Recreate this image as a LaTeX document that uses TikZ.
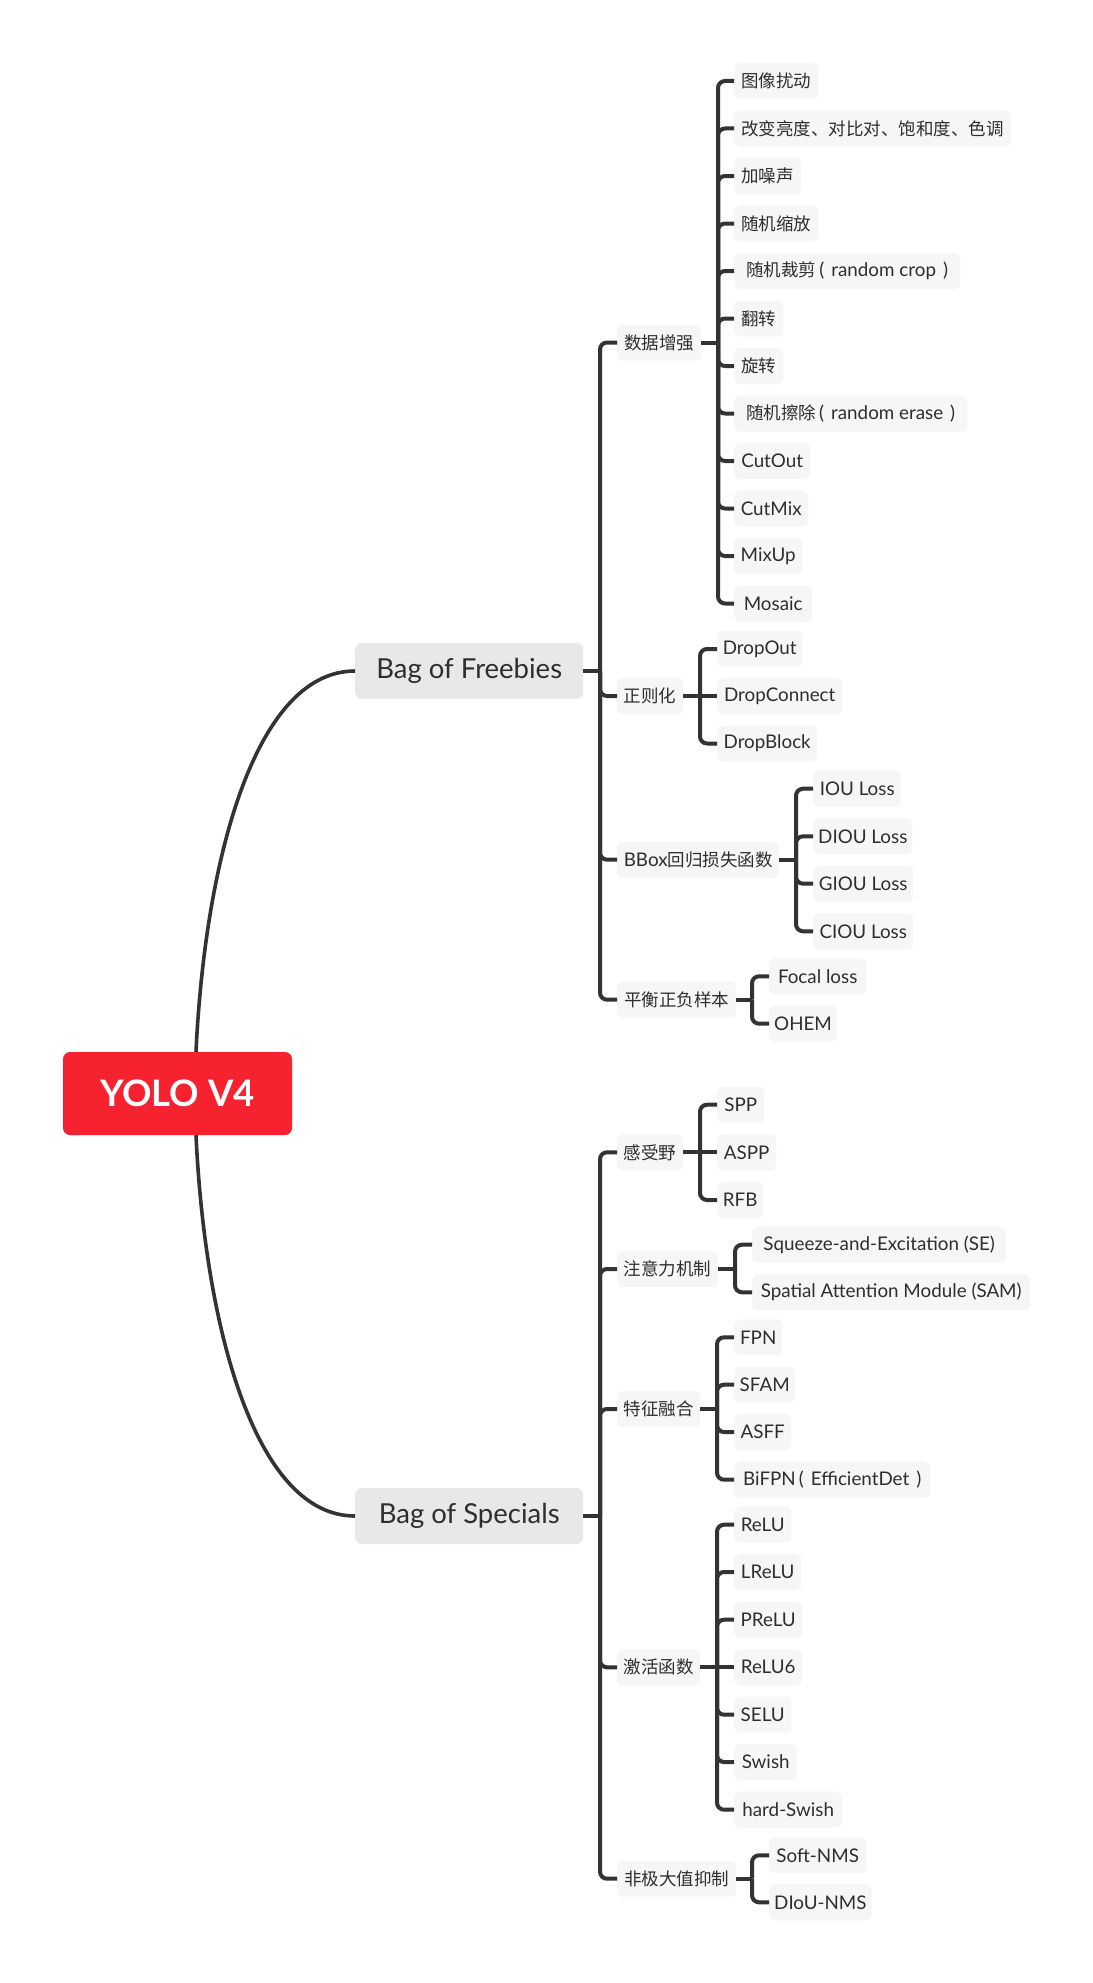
\documentclass[tikz,border=0pt]{standalone}
\usepackage{fontspec}
\setmainfont{Lato}
\newfontfamily\cjk{Noto Sans CJK SC}
\newcommand\cj[1]{{\cjk\fontsize{17.5}{20}\selectfont #1}}
\definecolor{linec}{HTML}{333333}
\definecolor{txt}{HTML}{2E2E2E}
\definecolor{leafbg}{HTML}{F6F6F6}
\definecolor{mainbg}{HTML}{E8E8E8}
\definecolor{rootred}{HTML}{F72230}
\tikzset{
  leaf/.style={fill=leafbg, rounded corners=6pt, minimum height=36pt, inner xsep=5pt, inner ysep=0pt,
    anchor=west, font=\fontsize{18.8}{22}\selectfont, text=txt},
  mainbox/.style={fill=mainbg, rounded corners=7pt, minimum height=56pt, minimum width=228pt, inner sep=0pt,
    anchor=west, font=\fontsize{27.5}{30}\selectfont, text=txt},
  rootbox/.style={fill=rootred, rounded corners=7pt, minimum height=83pt, minimum width=229pt, inner sep=0pt,
    font=\fontsize{36.5}{40}\selectfont\bfseries, text=white},
  conn/.style={draw=linec, line width=4pt},
  curveconn/.style={draw=linec, line width=3.6pt},
  brk/.style={draw=linec, line width=4pt, rounded corners=7pt}
}
\begin{document}
\begin{tikzpicture}[x=1pt,y=-1pt]
\useasboundingbox (0,0) rectangle (1092,1983);
\fill[white] (0,0) rectangle (1092,1983);

% root and main branches
\node[rootbox] (root) at (177.5,1093.5) {YOLO V4};
\node[mainbox] (bof) at (355,671) {Bag of Freebies};
\node[mainbox] (bos) at (355,1516) {Bag of Specials};

\draw[curveconn] ([xshift=18.5pt]root.north) .. controls (205,860) and (255,671) .. (bof.west);
\draw[curveconn] ([xshift=18.5pt]root.south) .. controls (205,1327) and (255,1516) .. (bos.west);

% ---------------- Bag of Freebies ----------------
\node[leaf, minimum width=84pt] (f1) at (617,342.5) {\cj{数据增强}};
\node[leaf, minimum width=66pt] (f2) at (617,696) {\cj{正则化}};
\node[leaf, minimum width=162pt] (f3) at (617,859.7) {BBox\cj{回归损失函数}};
\node[leaf, minimum width=119pt] (f4) at (617,999.7) {\cj{平衡正负样本}};

\coordinate (bofb) at (600,671);
\draw[conn] (bof.east) -- (bofb);
\foreach \c in {f1,f2,f3,f4} \draw[brk] (bofb) |- (\c.west);

% 数据增强
\node[leaf, minimum width=84pt] (a1) at (734,81) {\cj{图像扰动}};
\node[leaf, minimum width=277pt] (a2) at (734,128.5) {\cj{改变亮度、对比对、饱和度、色调}};
\node[leaf, minimum width=67pt] (a3) at (734,176) {\cj{加噪声}};
\node[leaf, minimum width=84pt] (a4) at (734,223.5) {\cj{随机缩放}};
\node[leaf, minimum width=226pt] (a5) at (734,271) {\cj{随机裁剪}\hspace{3pt}(\hspace{7pt}random crop\hspace{7pt})};
\node[leaf, minimum width=49pt] (a6) at (734,318.5) {\cj{翻转}};
\node[leaf, minimum width=49pt] (a7) at (734,366) {\cj{旋转}};
\node[leaf, minimum width=233pt] (a8) at (734,413.5) {\cj{随机擦除}\hspace{3pt}(\hspace{7pt}random erase\hspace{7pt})};
\node[leaf, minimum width=76pt] (a9) at (734,461) {CutOut};
\node[leaf, minimum width=74pt] (a10) at (734,508.5) {CutMix};
\node[leaf, minimum width=68pt] (a11) at (734,556) {MixUp};
\node[leaf, minimum width=78pt] (a12) at (734,603.5) {Mosaic};
\coordinate (f1b) at (718,342.5);
\draw[conn] (f1.east) -- (f1b);
\foreach \c in {a1,a2,a3,a4,a5,a6,a7,a8,a9,a10,a11,a12} \draw[brk] (f1b) |- (\c.west);

% 正则化
\node[leaf, minimum width=85pt] (r1) at (717,649) {DropOut};
\node[leaf, minimum width=125pt] (r2) at (717,696) {DropConnect};
\node[leaf, minimum width=100pt] (r3) at (717,743.5) {DropBlock};
\coordinate (f2b) at (700,696);
\draw[conn] (f2.east) -- (f2b);
\draw[brk] (f2b) |- (r1.west);
\draw[conn] (f2b) -- (r2.west);
\draw[brk] (f2b) |- (r3.west);

% BBox
\node[leaf, minimum width=88pt] (l1) at (813,788.7) {IOU Loss};
\node[leaf, minimum width=99pt] (l2) at (813,836.3) {DIOU Loss};
\node[leaf, minimum width=100pt] (l3) at (813,883.7) {GIOU Loss};
\node[leaf, minimum width=100pt] (l4) at (813,931.3) {CIOU Loss};
\coordinate (f3b) at (796,859.7);
\draw[conn] (f3.east) -- (f3b);
\foreach \c in {l1,l2,l3,l4} \draw[brk] (f3b) |- (\c.west);

% 平衡正负样本
\node[leaf, minimum width=97pt] (p1) at (769,976.3) {Focal loss};
\node[leaf, minimum width=65pt] (p2) at (769,1023.7) {OHEM};
\coordinate (f4b) at (752,999.7);
\draw[conn] (f4.east) -- (f4b);
\foreach \c in {p1,p2} \draw[brk] (f4b) |- (\c.west);

% ---------------- Bag of Specials ----------------
\node[leaf, minimum width=66pt] (s1) at (617,1152.3) {\cj{感受野}};
\node[leaf, minimum width=101pt] (s2) at (617,1269) {\cj{注意力机制}};
\node[leaf, minimum width=83pt] (s3) at (617,1409) {\cj{特征融合}};
\node[leaf, minimum width=83pt] (s4) at (617,1667.3) {\cj{激活函数}};
\node[leaf, minimum width=119pt] (s5) at (617,1878.7) {\cj{非极大值抑制}};
\coordinate (bosb) at (600,1516);
\draw[conn] (bos.east) -- (bosb);
\foreach \c in {s1,s2,s3,s4,s5} \draw[brk] (bosb) |- (\c.west);

% 感受野
\node[leaf, minimum width=47pt] (k1) at (717,1104.7) {SPP};
\node[leaf, minimum width=59pt] (k2) at (717,1152.3) {ASPP};
\node[leaf, minimum width=46pt] (k3) at (717,1200) {RFB};
\coordinate (s1b) at (700,1152.3);
\draw[conn] (s1.east) -- (s1b);
\draw[brk] (s1b) |- (k1.west);
\draw[conn] (s1b) -- (k2.west);
\draw[brk] (s1b) |- (k3.west);

% 注意力机制
\node[leaf, minimum width=254pt] (t1) at (752,1244.7) {Squeeze-and-Excitation (SE)};
\node[leaf, minimum width=278pt] (t2) at (752,1292.3) {Spatial Attention Module (SAM)};
\coordinate (s2b) at (735,1269);
\draw[conn] (s2.east) -- (s2b);
\foreach \c in {t1,t2} \draw[brk] (s2b) |- (\c.west);

% 特征融合
\node[leaf, minimum width=48pt] (u1) at (734,1337.3) {FPN};
\node[leaf, minimum width=61pt] (u2) at (734,1384.7) {SFAM};
\node[leaf, minimum width=57pt] (u3) at (734,1432) {ASFF};
\node[leaf, minimum width=196pt] (u4) at (734,1479.7) {BiFPN\hspace{3pt}(\hspace{7pt}EfficientDet\hspace{7pt})};
\coordinate (s3b) at (717,1409);
\draw[conn] (s3.east) -- (s3b);
\foreach \c in {u1,u2,u3,u4} \draw[brk] (s3b) |- (\c.west);

% 激活函数
\node[leaf, minimum width=57pt] (v1) at (734,1524.7) {ReLU};
\node[leaf, minimum width=67pt] (v2) at (734,1572) {LReLU};
\node[leaf, minimum width=68pt] (v3) at (734,1619.7) {PReLU};
\node[leaf, minimum width=68pt] (v4) at (734,1667.3) {ReLU6};
\node[leaf, minimum width=57pt] (v5) at (734,1714.7) {SELU};
\node[leaf, minimum width=63pt] (v6) at (734,1762) {Swish};
\node[leaf, minimum width=108pt] (v7) at (734,1809.7) {hard-Swish};
\coordinate (s4b) at (717,1667.3);
\draw[conn] (s4.east) -- (s4b);
\foreach \c in {v1,v2,v3,v5,v6,v7} \draw[brk] (s4b) |- (\c.west);
\draw[conn] (s4b) -- (v4.west);

% 非极大值抑制
\node[leaf, minimum width=97pt] (n1) at (769,1855.3) {Soft-NMS};
\node[leaf, minimum width=101pt] (n2) at (769,1902.3) {DIoU-NMS};
\coordinate (s5b) at (752,1878.7);
\draw[conn] (s5.east) -- (s5b);
\foreach \c in {n1,n2} \draw[brk] (s5b) |- (\c.west);
\end{tikzpicture}
\end{document}
